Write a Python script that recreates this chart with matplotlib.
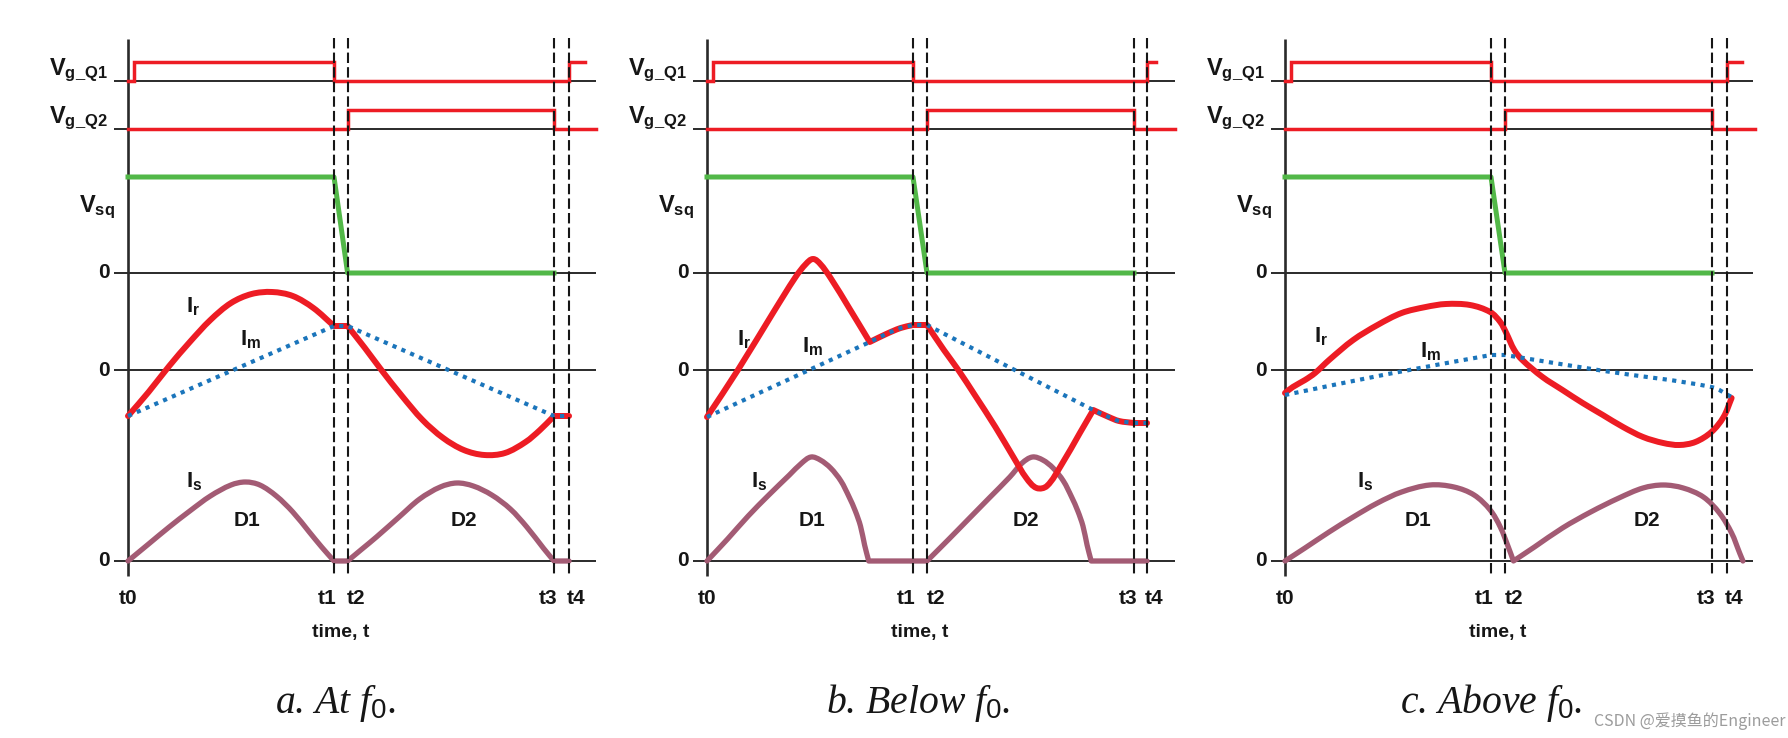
import matplotlib
matplotlib.use('Agg')
import numpy as np
import matplotlib.pyplot as plt
from matplotlib.path import Path
from matplotlib.patches import PathPatch

plt.rcParams['font.family'] = ['Liberation Sans', 'DejaVu Sans']
plt.rcParams['mathtext.fontset'] = 'custom'
plt.rcParams['mathtext.bf'] = 'Liberation Sans:bold'
plt.rcParams['mathtext.rm'] = 'Liberation Sans'
plt.rcParams['mathtext.it'] = 'Liberation Serif:italic'
plt.rcParams['mathtext.sf'] = 'Liberation Sans'

# ------------------------------------------------------------------ data
captions = [r'a. At $\mathit{f}_{\mathit{0}}$.', r'b. Below $\mathit{f}_{\mathit{0}}$.',
            r'c. Above $\mathit{f}_{\mathit{0}}$.']
event_names = ['t0', 't1', 't2', 't3', 't4']

# event instants t0..t4 (time in half-period units)
events_a = [0.0, 1.0, 1.066, 2.068, 2.141]
events_b = [0.0, 1.0, 1.068, 2.073, 2.136]
events_c = [0.0, 1.0, 1.068, 2.073, 2.146]

# gate drive Q1 (step waveform, 0 / 1)
vgq1_a_t = [0.0, 0.03, 0.03, 1.0, 1.0, 2.141, 2.141, 2.22]
vgq1_b_t = [0.0, 0.03, 0.03, 1.0, 1.0, 2.136, 2.136, 2.18]
vgq1_c_t = [0.0, 0.03, 0.03, 1.0, 1.0, 2.146, 2.146, 2.22]
vgq1_v = [0, 0, 1, 1, 0, 0, 1, 1]

# gate drive Q2
vgq2_a_t = [0.0, 1.066, 1.066, 2.068, 2.068, 2.27]
vgq2_b_t = [0.0, 1.068, 1.068, 2.073, 2.073, 2.27]
vgq2_c_t = [0.0, 1.068, 1.068, 2.073, 2.073, 2.28]
vgq2_v = [0, 0, 1, 1, 0, 0]

# square-wave voltage Vsq (1 = high)
vsq_a_t = [0.0, 1.0, 1.066, 2.068]
vsq_b_t = [0.0, 1.0, 1.068, 2.073]
vsq_c_t = [0.0, 1.0, 1.068, 2.073]
vsq_v = [1, 1, 0, 0]

# resonant current Ir (arbitrary units)
ir_a_t = [0.0, 0.1, 0.2, 0.3, 0.4, 0.5, 0.6, 0.7, 0.8, 0.9, 1.0, 1.066, 1.15, 1.23,
          1.33, 1.43, 1.53, 1.63, 1.73, 1.83, 1.93, 2.0, 2.068, 2.141]
ir_a_v = [-46, -22, 4, 28, 50, 67, 76, 78, 74, 62, 44, 44, 22, 0,
          -26, -50, -68, -80, -85, -83, -72, -60, -46, -46]
ir_b_t = [0.0, 0.15, 0.32, 0.43, 0.48, 0.515, 0.55, 0.60, 0.69, 0.79, 0.87, 0.94, 1.0,
          1.068, 1.15, 1.22, 1.30, 1.40, 1.49, 1.55, 1.60, 1.65, 1.72, 1.81, 1.875,
          1.95, 2.0, 2.073, 2.136]
ir_b_v = [-47, 0, 57, 93, 106, 111, 106, 92, 62, 28, 36, 42, 45,
          45, 20, 0, -25, -57, -88, -108, -118, -116, -95, -63, -40,
          -47, -51, -53, -53]
ir_c_t = [0.0, 0.038, 0.097, 0.146, 0.214, 0.331, 0.449, 0.566, 0.683, 0.781, 0.898,
          0.996, 1.045, 1.074, 1.113, 1.152, 1.25, 1.347, 1.445, 1.543, 1.641, 1.738,
          1.836, 1.914, 1.992, 2.07, 2.129, 2.168]
ir_c_v = [-23, -17, -10, -3, 10, 30, 45, 57, 63, 66, 65,
          58, 48, 37, 20, 10, -7, -20, -33, -45, -57, -67,
          -73, -75, -72, -62, -47, -28]

# magnetising current Im
im_a_t = [0.0, 1.0, 1.066, 2.068, 2.141]
im_a_v = [-46, 44, 44, -46, -46]
im_b_t = [0.0, 0.79, 0.87, 0.94, 1.0, 1.068, 1.875, 1.95, 2.0, 2.073, 2.136]
im_b_v = [-47, 28, 36, 42, 45, 45, -40, -47, -51, -53, -53]
im_c_t = [0.0, 0.5, 1.0, 1.068, 1.55, 2.07, 2.168]
im_c_v = [-25, -4, 15, 15, -1, -17, -27]

# secondary current Is
is_a_t = [0.0, 0.1, 0.2, 0.3, 0.4, 0.5, 0.57, 0.64, 0.72, 0.8, 0.88, 0.94, 1.0,
          1.066, 1.136, 1.206, 1.316, 1.416, 1.516, 1.596, 1.676, 1.766, 1.856,
          1.936, 2.016, 2.068, 2.141]
is_a_v = [0, 17, 34, 50, 65, 76, 79, 76, 65, 49, 29, 14, 0,
          0, 12, 24, 44, 62, 74, 78, 75, 66, 52,
          34, 13, 0, 0]
is_b_t = [0.0, 0.1, 0.2, 0.3, 0.4, 0.46, 0.505, 0.55, 0.60, 0.65, 0.69, 0.72, 0.745,
          0.765, 0.785, 1.068, 1.17, 1.27, 1.37, 1.47, 1.53, 1.58, 1.63, 1.68, 1.73,
          1.77, 1.80, 1.825, 1.845, 1.865, 2.136]
is_b_v = [0, 22, 45, 66, 86, 98, 104, 101, 93, 80, 64, 50, 35,
          16, 0, 0, 21, 42, 63, 84, 98, 104, 101, 93, 80,
          64, 50, 35, 16, 0, 0]
is_c_t = [0.0, 0.097, 0.214, 0.331, 0.449, 0.566, 0.703, 0.82, 0.918, 0.996, 1.045,
          1.084, 1.109, 1.211, 1.347, 1.484, 1.621, 1.738, 1.836, 1.933, 2.031,
          2.109, 2.168, 2.207, 2.223]
is_c_v = [0, 13, 29, 44, 58, 69, 76, 74, 66, 51, 34,
          14, 0, 14, 33, 49, 63, 73, 76, 73, 64,
          48, 28, 8, 0]

# ------------------------------------------------------------------ layout
W, H = 1788, 738
PX_T = 206.0                      # pixels per time unit
axis_px = [128, 707, 1285]        # x pixel of t0 per panel
Y_Q1, Y_Q2, Y_VSQ, Y_IR, Y_IS = 81, 129, 273, 370, 561
GATE_H, VSQ_H = 19, 96
Y_TOP, Y_BOT = 39, 576
T_LEFT, T_RIGHT = -0.068, 2.27

RED = '#ed1c24'
GREEN = '#52b848'
BLUE = '#1b75bb'
MAUVE = '#a35b74'
LINE = '#2a2a2a'
TXT = '#161616'

lab_pos = [
    {'ir': (0.28, 312), 'im': (0.545, 345), 'is': (0.28, 487), 'd1': (0.58, 520), 'd2': (1.63, 520),
     'time': 1.033, 'cap': 1.005},
    {'ir': (0.145, 345), 'im': (0.46, 352), 'is': (0.215, 487), 'd1': (0.51, 520), 'd2': (1.55, 520),
     'time': 1.034, 'cap': 1.024},
    {'ir': (0.14, 342), 'im': (0.655, 357), 'is': (0.35, 487), 'd1': (0.645, 520), 'd2': (1.757, 520),
     'time': 1.034, 'cap': 1.0},
]


def smooth_curve(ax, t, v, y0, **kw):
    """Draw a smooth curve through the given samples (cubic segments), keeping sharp corners."""
    P = np.column_stack([np.asarray(t, float) * PX_T, -np.asarray(v, float)])
    n = len(P)
    seg = np.diff(P, axis=0)
    seg_len = np.hypot(seg[:, 0], seg[:, 1])
    seg_dir = seg / seg_len[:, None]
    d_in = np.zeros_like(P)
    d_out = np.zeros_like(P)
    d_in[1:] = seg_dir
    d_out[:-1] = seg_dir
    d_in[0] = seg_dir[0]
    d_out[-1] = seg_dir[-1]
    for i in range(1, n - 1):
        a, b = seg_dir[i - 1], seg_dir[i]
        ang = np.degrees(np.arccos(np.clip(a @ b, -1, 1)))
        flat_change = (abs(a[1]) < 1e-9) != (abs(b[1]) < 1e-9)
        if ang > 75 or flat_change:
            continue
        m = P[i + 1] - P[i - 1]
        m = m / np.hypot(*m)
        d_in[i] = m
        d_out[i] = m
    verts = [P[0]]
    codes = [Path.MOVETO]
    for i in range(n - 1):
        L = seg_len[i] / 3.0
        verts += [P[i] + d_out[i] * L, P[i + 1] - d_in[i + 1] * L, P[i + 1]]
        codes += [Path.CURVE4] * 3
    verts = np.array(verts)
    verts[:, 0] /= PX_T
    verts[:, 1] = y0 + verts[:, 1]
    ax.add_patch(PathPatch(Path(verts, codes), fill=False, **kw))


fig = plt.figure(figsize=(W / 100, H / 100), dpi=100)
fig.patch.set_facecolor('white')

panels = [
    (events_a, vgq1_a_t, vgq2_a_t, vsq_a_t, ir_a_t, ir_a_v, im_a_t, im_a_v, is_a_t, is_a_v),
    (events_b, vgq1_b_t, vgq2_b_t, vsq_b_t, ir_b_t, ir_b_v, im_b_t, im_b_v, is_b_t, is_b_v),
    (events_c, vgq1_c_t, vgq2_c_t, vsq_c_t, ir_c_t, ir_c_v, im_c_t, im_c_v, is_c_t, is_c_v),
]

for k, (ev, q1t, q2t, vst, irt, irv, imt, imv, ist, isv) in enumerate(panels):
    x0 = axis_px[k]
    ax = fig.add_axes([0, 0, 1, 1])
    ax.set_xlim(-x0 / PX_T, (W - x0) / PX_T)
    ax.set_ylim(H, 0)
    ax.axis('off')
    ax.patch.set_alpha(0)

    for yy in (Y_Q1, Y_Q2, Y_VSQ, Y_IR, Y_IS):
        ax.plot([T_LEFT, T_RIGHT], [yy, yy], color=LINE, lw=1.4, zorder=1, solid_capstyle='butt')
    ax.plot([0, 0], [Y_TOP, Y_BOT], color=LINE, lw=1.9, zorder=2, solid_capstyle='butt')
    for te in ev[1:]:
        ax.plot([te, te], [Y_TOP - 1, Y_BOT], color=TXT, lw=1.5, ls=(0, (5, 2)), zorder=7)

    ax.plot(q1t, [Y_Q1 - GATE_H * v for v in vgq1_v], color=RED, lw=2.5, zorder=3,
            solid_joinstyle='miter')
    ax.plot(q2t, [Y_Q2 - GATE_H * v for v in vgq2_v], color=RED, lw=2.5, zorder=3,
            solid_joinstyle='miter')
    ax.plot(vst, [Y_VSQ - VSQ_H * v for v in vsq_v], color=GREEN, lw=3.6, zorder=3)

    smooth_curve(ax, ist, isv, Y_IS, edgecolor=MAUVE, lw=3.8, zorder=3,
                 joinstyle='round', capstyle='round')
    smooth_curve(ax, irt, irv, Y_IR, edgecolor=RED, lw=4.3, zorder=4,
                 joinstyle='round', capstyle='round')
    smooth_curve(ax, imt, imv, Y_IR, edgecolor=BLUE, lw=3.0, linestyle=(0, (1, 1.3)), zorder=5)

    ax.text(-0.097, 75, r'$\mathbf{V}_{\mathbf{g\_Q1}}$', ha='right', va='baseline', fontsize=17, color=TXT)
    ax.text(-0.097, 123, r'$\mathbf{V}_{\mathbf{g\_Q2}}$', ha='right', va='baseline', fontsize=17, color=TXT)
    ax.text(-0.063, 212, r'$\mathbf{V}_{\mathbf{sq}}$', ha='right', va='baseline', fontsize=17, color=TXT)
    for yy in (Y_VSQ, Y_IR, Y_IS):
        ax.text(-0.09, yy, '0', ha='right', va='center', fontsize=15, fontweight='bold', color=TXT)

    lp = lab_pos[k]
    ax.text(lp['ir'][0], lp['ir'][1], r'$\mathbf{I}_{\mathbf{r}}$', ha='left', va='baseline', fontsize=16, color=TXT)
    ax.text(lp['im'][0], lp['im'][1], r'$\mathbf{I}_{\mathbf{m}}$', ha='left', va='baseline', fontsize=16, color=TXT)
    ax.text(lp['is'][0], lp['is'][1], r'$\mathbf{I}_{\mathbf{s}}$', ha='left', va='baseline', fontsize=16, color=TXT)
    ax.text(lp['d1'][0], lp['d1'][1], 'D1', ha='center', va='center', fontsize=15, fontweight='bold', color=TXT)
    ax.text(lp['d2'][0], lp['d2'][1], 'D2', ha='center', va='center', fontsize=15, fontweight='bold', color=TXT)

    aligns = ['center', 'right', 'left', 'right', 'left']
    offs = [0.0, 0.01, -0.002, 0.015, -0.01]
    for name, te, al, of in zip(event_names, ev, aligns, offs):
        ax.text(te + of, 598, name, ha=al, va='center', fontsize=15, fontweight='bold', color=TXT)
    ax.text(lp['time'], 633, 'time, t', ha='center', va='center', fontsize=14, fontweight='bold', color=TXT)
    ax.text(lp['cap'], 703, captions[k], ha='center', va='center', fontsize=28.5, color=TXT,
            family='Liberation Serif', style='italic')

fig.text(1786 / W, 1 - 721 / H, 'CSDN @爱摸鱼的Engineer', ha='right', va='center', fontsize=11.5,
         color='#9c9c9c', family=['Noto Sans CJK SC', 'DejaVu Sans'])

fig.savefig('out.png', dpi=100, facecolor='white')
